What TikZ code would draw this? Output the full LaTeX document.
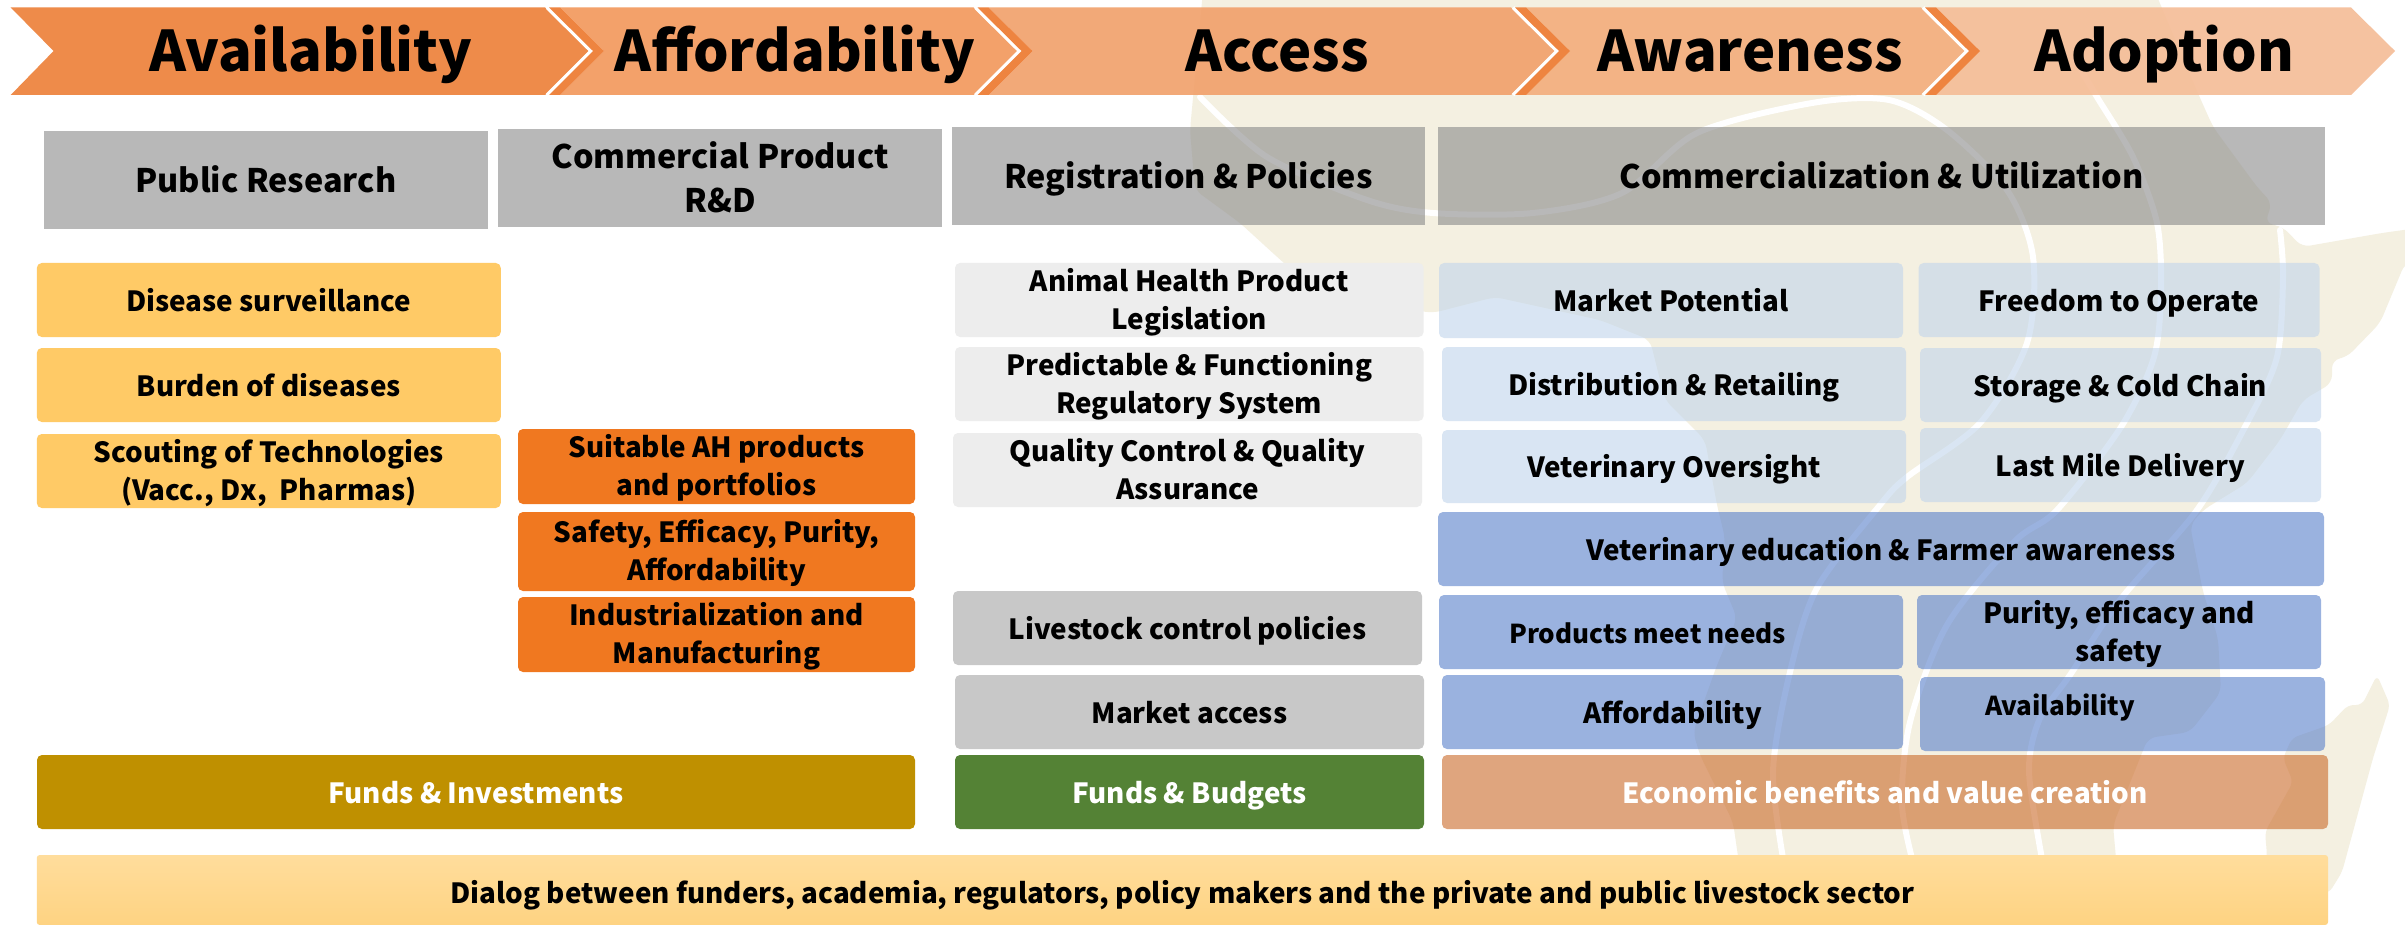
\documentclass[tikz,border=0pt]{standalone}
\usepackage{fontspec}
\setmainfont{Noto Sans CJK SC}
\usepackage{tikz}
\usetikzlibrary{positioning, calc}

\definecolor{beigeBg}{HTML}{F4F0E1}
\definecolor{stripOrange}{HTML}{EE8440}
\definecolor{headGray}{HTML}{898989}
\definecolor{yellowCell}{HTML}{FFCA66}
\definecolor{orangeCell}{HTML}{F07820}
\definecolor{paleCell}{HTML}{EDEDED}
\definecolor{midCell}{HTML}{C8C8C8}
\definecolor{skyCell}{HTML}{C1D5EB}
\definecolor{blueCell}{HTML}{587FCB}
\definecolor{goldCell}{HTML}{BF9000}
\definecolor{greenCell}{HTML}{548235}
\definecolor{copperCell}{HTML}{CA6928}
\definecolor{dialogTop}{HTML}{FFDD9C}
\definecolor{dialogBot}{HTML}{FED382}

\newcommand{\topgap}[1]{\rule{0pt}{#1}}

\tikzset{
	evenlines/.style={execute at begin node={\raisebox{8pt}{\vphantom{Ag}}}, execute at end node={\vphantom{Ag}}},
	titletext/.style={evenlines, inner sep=0pt, font=\fontsize{56}{60}\selectfont\bfseries},
	headbox/.style={evenlines, inner sep=0pt, align=center, minimum height=98pt, fill=headGray, fill opacity=.6, text opacity=1, font=\fontsize{32.4}{44}\selectfont\bfseries},
	cellbox/.style={evenlines, inner sep=0pt, align=center, minimum height=74pt, rounded corners=5pt, font=\fontsize{27.8}{38}\selectfont\bfseries},
	seethru/.style={fill opacity=.6, text opacity=1},
	celltext/.style={evenlines, inner sep=0pt, font=\fontsize{26}{38}\selectfont\bfseries},
	swirl/.style={white, line width=6pt, line cap=round}
}

\begin{document}
\begin{tikzpicture}[x=1pt,y=-1pt]
	\useasboundingbox (0,0) rectangle (2405,925);
	\fill[white] (0,0) rectangle (2405,925);

	\begin{scope}
		\clip (0,0) rectangle (2405,925);
		\fill[beigeBg, rounded corners=8pt] (1204,-20) -- (1190,130) -- (1195,190) -- (1240,223) -- (1275,255) -- (1320,295) -- (1433,313) -- (1495,297) -- (1600,320) -- (1650,340) -- (1665,400) -- (1705,440) -- (1717,505) -- (1725,538) -- (1722,582) -- (1737,618) -- (1717,665) -- (1693,732) -- (1700,755) -- (1733,822) -- (1740,870) -- (2117,870) -- (2113,825) -- (2148,738) -- (2190,732) -- (2221,692) -- (2218,638) -- (2203,592) -- (2190,525) -- (2203,510) -- (2247,483) -- (2280,440) -- (2303,400) -- (2332,383) -- (2332,360) -- (2347,357) -- (2380,323) -- (2405,263) -- (2440,255) -- (2440,225) -- (2382,233) -- (2302,247) -- (2283,227) -- (2265,223) -- (2272,203) -- (2257,187) -- (2213,127) -- (2200,98) -- (2150,-20) -- cycle;
		\fill[beigeBg, rounded corners=6pt] (2377,675) -- (2390,705) -- (2373,758) -- (2342,872) -- (2329,893) -- (2260,893) -- (2267,855) -- (2265,832) -- (2293,782) -- (2283,758) -- (2292,738) -- (2329,725) -- (2348,705) -- (2362,705) -- cycle;
		\draw[swirl] plot[smooth] coordinates {(1200,97) (1267,157) (1367,200) (1433,213) (1533,213) (1622,193) (1697,133) (1812,103) (1889,100) (1947,130) (2007,190) (2033,257) (2027,343) (1980,423) (1907,477) (1880,505) (1817,588) (1790,672) (1773,772) (1785,870)};
		\draw[swirl] plot[smooth] coordinates {(2075,60) (2097,97) (2133,157) (2157,223) (2161,290) (2154,357) (2121,427) (2057,510) (2014,542) (1947,625) (1910,722) (1902,805) (1915,870)};
		\draw[swirl] plot[smooth] coordinates {(2280,230) (2283,277) (2277,357) (2247,423) (2197,510) (2120,600) (2070,675) (2040,718) (2029,772) (2044,870)};
	\end{scope}

	\foreach \lft/\rgt/\shade in {560/973.5/F2975A, 988.5/1511/F1A06A, 1526/1921/F3AD7C, 1936/2351/F5BC96}{
		\definecolor{chevfill}{HTML}{\shade}
		\fill[chevfill, fill opacity=.9] (\lft,7.5) -- (\rgt,7.5) -- (\rgt+44,51) -- (\rgt,95) -- (\lft,95) -- (\lft+44,51) -- cycle;
	}
	\definecolor{chevfill}{HTML}{EE8B4A}
	\fill[chevfill] (10.7,7.5) -- (545,7.5) -- (589,51) -- (545,95) -- (10.7,95) -- (53.6,51) -- cycle;
	\foreach \rgt in {545, 973.5, 1511, 1921}{
		\draw[white, line width=3.5pt] (\rgt+2,7.5) -- (\rgt+46,51) -- (\rgt+2,95);
		\fill[stripOrange] (\rgt+4,7.5) -- (\rgt+15,7.5) -- (\rgt+59,51) -- (\rgt+15,95) -- (\rgt+4,95) -- (\rgt+48,51) -- cycle;
	}

	\node[titletext, anchor=base] (availTitle) at (311,72) {Availability};
	\node[titletext, anchor=base] (affordTitle) at (795,72) {Affordability};
	\node[titletext, anchor=base] (accessTitle) at (1277,72) {Access};
	\node[titletext, anchor=base] (awareTitle) at (1750,72) {Awareness};
	\node[titletext, anchor=base] (adoptTitle) at (2164,72) {Adoption};

	\node[headbox, minimum width=444pt] (publicHead) at (265.8,180) {Public Research};
	\node[headbox, minimum width=444pt] (productHead) at (720,178) {\topgap{33pt}Commercial Product\\R\&D};
	\node[headbox, minimum width=473pt] (regHead) at (1188.5,176) {Registration \& Policies};
	\node[headbox, minimum width=887pt] (commHead) at (1881.5,176) {Commercialization \& Utilization};

	\node[cellbox, fill=yellowCell, minimum width=464pt] (survCell) at (268.8,300) {Disease surveillance};
	\node[cellbox, fill=yellowCell, minimum width=464pt] (burdenCell) at (268.8,385) {Burden of diseases};
	\node[cellbox, fill=yellowCell, minimum width=464pt] (scoutCell) at (268.8,471) {\topgap{27pt}Scouting of Technologies\\(Vacc., Dx,\ \ Pharmas)};

	\node[cellbox, fill=orangeCell, minimum width=397pt, minimum height=75pt] (suitCell) at (716.5,466.5) {\topgap{27pt}Suitable AH products\\and portfolios};
	\node[cellbox, fill=orangeCell, minimum width=397pt, minimum height=79pt] (safetyCell) at (716.5,551.5) {\topgap{27pt}Safety, Efficacy, Purity,\\Affordability};
	\node[cellbox, fill=orangeCell, minimum width=397pt, minimum height=75pt] (industCell) at (716.5,634.5) {\topgap{27pt}Industrialization and\\Manufacturing};

	\node[cellbox, fill=paleCell, minimum width=468.6pt] (legisCell) at (1189.3,300) {\topgap{27pt}Animal Health Product\\Legislation};
	\node[cellbox, fill=paleCell, minimum width=468.6pt] (regulCell) at (1189.3,384) {\topgap{27pt}Predictable \& Functioning\\Regulatory System};
	\node[cellbox, fill=paleCell, minimum width=469pt] (qualityCell) at (1187.5,470) {\topgap{27pt}Quality Control \& Quality\\Assurance};
	\node[cellbox, fill=midCell, minimum width=469pt] (livestockCell) at (1187.5,628) {Livestock control policies};
	\node[cellbox, fill=midCell, minimum width=469pt] (marketCell) at (1189.5,712) {Market access};

	\node[cellbox, seethru, fill=skyCell, minimum width=464pt, minimum height=75pt] (potentialCell) at (1671,300.5) {Market Potential};
	\node[cellbox, seethru, fill=skyCell, minimum width=401pt] (freedomCell) at (2119,300) {Freedom to Operate};
	\node[cellbox, seethru, fill=skyCell, minimum width=464pt] (distribCell) at (1674,384) {Distribution \& Retailing};
	\node[cellbox, seethru, fill=skyCell, minimum width=401pt] (storageCell) at (2120.5,385) {Storage \& Cold Chain};
	\node[cellbox, seethru, fill=skyCell, minimum width=464pt, minimum height=73pt] (oversightCell) at (1674,466.5) {Veterinary Oversight};
	\node[cellbox, seethru, fill=skyCell, minimum width=401pt] (lastmileCell) at (2120.5,465) {Last Mile Delivery};

	\node[cellbox, seethru, fill=blueCell, minimum width=886pt] (educCell) at (1881,549) {Veterinary education \& Farmer awareness};
	\node[cellbox, seethru, fill=blueCell, minimum width=464pt] (needsCell) at (1671,632) {};
	\node[celltext] (needsText) at (1647.6,633) {Products meet needs};
	\node[cellbox, seethru, fill=blueCell, minimum width=404pt] (purityCell) at (2119,632) {\topgap{27pt}Purity, efficacy and\\safety};
	\node[cellbox, seethru, fill=blueCell, minimum width=461pt] (affordCell) at (1672.5,712) {Affordability};
	\node[cellbox, seethru, fill=blueCell, minimum width=405pt] (availCell) at (2122.5,714) {};
	\node[celltext] (availText) at (2060,705) {Availability};

	\node[cellbox, fill=goldCell, text=white, minimum width=878pt] (fundsCell) at (476,792) {Funds \& Investments};
	\node[cellbox, fill=greenCell, text=white, minimum width=469pt] (budgetCell) at (1189.5,792) {Funds \& Budgets};
	\node[cellbox, seethru, fill=copperCell, text=white, minimum width=886pt] (econCell) at (1885,792) {Economic benefits and value creation};

	\node[cellbox, minimum width=2291.3pt, minimum height=70pt, rounded corners=3pt, top color=dialogTop, bottom color=dialogBot] (dialogCell) at (1182.4,890) {\topgap{34pt}Dialog between funders, academia, regulators, policy makers and the private and public livestock sector};
\end{tikzpicture}
\end{document}
